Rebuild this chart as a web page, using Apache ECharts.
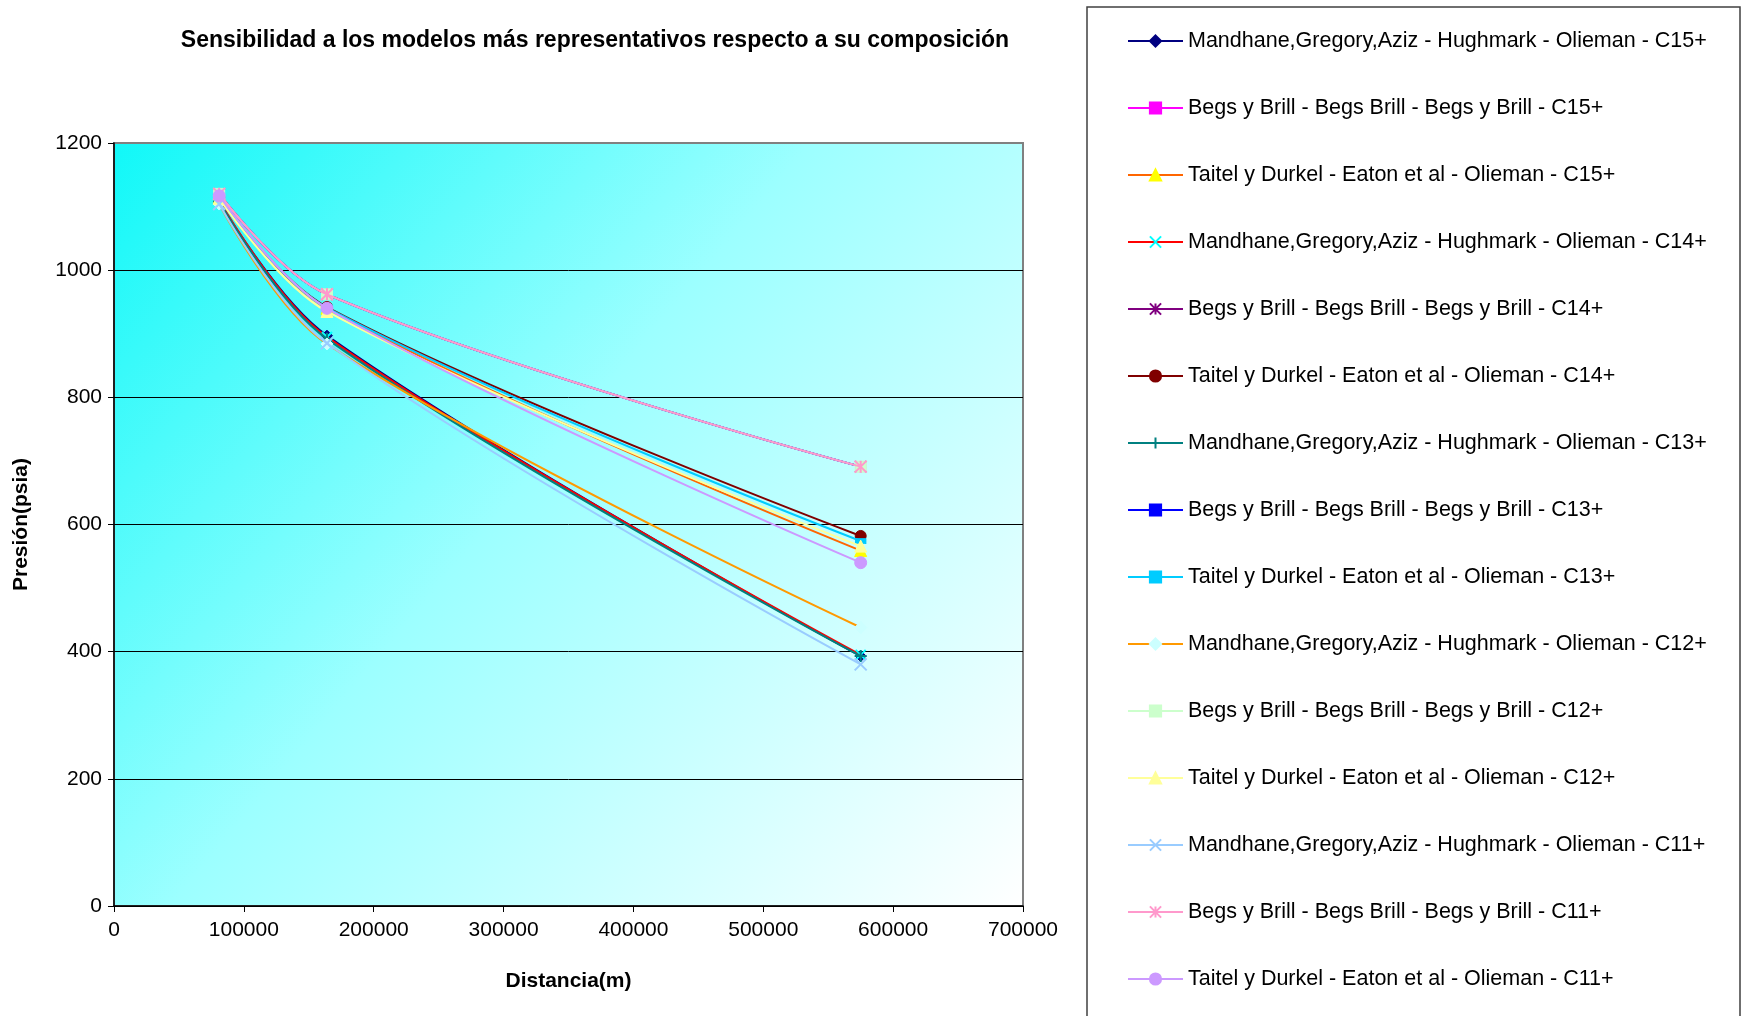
<!DOCTYPE html>
<html>
<head>
<meta charset="utf-8">
<script src="https://cdn.jsdelivr.net/npm/echarts@6/dist/echarts.min.js"></script>
<style>
  html, body { margin: 0; padding: 0; background: #ffffff; }
  #chart { width: 1742px; height: 1016px; }
</style>
</head>
<body>
<div id="chart"></div>
<script>
// Distance along the pipeline (m)
const distancias = [81000, 164000, 575000];

// Series names (correlation - holdup - viscosity - heavy fraction)
const nombres = [
  'Mandhane,Gregory,Aziz - Hughmark - Olieman - C15+',
  'Begs y Brill - Begs Brill - Begs y Brill - C15+',
  'Taitel y Durkel - Eaton et al - Olieman - C15+',
  'Mandhane,Gregory,Aziz - Hughmark - Olieman - C14+',
  'Begs y Brill - Begs Brill - Begs y Brill - C14+',
  'Taitel y Durkel - Eaton et al - Olieman - C14+',
  'Mandhane,Gregory,Aziz - Hughmark - Olieman - C13+',
  'Begs y Brill - Begs Brill - Begs y Brill - C13+',
  'Taitel y Durkel - Eaton et al - Olieman - C13+',
  'Mandhane,Gregory,Aziz - Hughmark - Olieman - C12+',
  'Begs y Brill - Begs Brill - Begs y Brill - C12+',
  'Taitel y Durkel - Eaton et al - Olieman - C12+',
  'Mandhane,Gregory,Aziz - Hughmark - Olieman - C11+',
  'Begs y Brill - Begs Brill - Begs y Brill - C11+',
  'Taitel y Durkel - Eaton et al - Olieman - C11+'
];

// Pressure (psia) at each distance
const mandhaneC15 = [1108, 897, 393];
const begsC15     = [1120, 962, 691];
const taitelC15   = [1115, 940, 559];
const mandhaneC14 = [1110, 895, 395];
const begsC14     = [1120, 962, 691];
const taitelC14   = [1115, 942, 582];
const mandhaneC13 = [1108, 892, 393];
const begsC13     = [1120, 962, 691];
const taitelC13   = [1115, 941, 574];
const mandhaneC12 = [1104, 884, 438];
const begsC12     = [1120, 962, 691];
const taitelC12   = [1113, 935, 566];
const mandhaneC11 = [1104, 885, 380];
const begsC11     = [1120, 962, 691];
const taitelC11   = [1117, 940, 540];

const valores = [
  mandhaneC15, begsC15, taitelC15,
  mandhaneC14, begsC14, taitelC14,
  mandhaneC13, begsC13, taitelC13,
  mandhaneC12, begsC12, taitelC12,
  mandhaneC11, begsC11, taitelC11
];

// Axis ticks
const ticksX = [0, 100000, 200000, 300000, 400000, 500000, 600000, 700000];
const ticksY = [0, 200, 400, 600, 800, 1000, 1200];

// Stroke-only marker shapes
const SYM_X = 'path://M0,0L10,10M10,0L0,10';
const SYM_STAR = 'path://M0,0L10,10M10,0L0,10M5,0L5,10';
const SYM_PLUS = 'path://M5,0L5,10M0,5L10,5';

// line colour, marker colour, marker symbol, marker size, stroke-only marker
const estilos = [
  ['#000080', '#000080', 'diamond', 11, false],
  ['#FF00FF', '#FF00FF', 'rect', 10, false],
  ['#FF6600', '#FFFF00', 'triangle', 12, false],
  ['#FF0000', '#00FFFF', SYM_X, 10, true],
  ['#800080', '#800080', SYM_STAR, 11, true],
  ['#800000', '#800000', 'circle', 11, false],
  ['#008080', '#008080', SYM_PLUS, 12, true],
  ['#0000FF', '#0000FF', 'rect', [8, 4], false],
  ['#00CCFF', '#00CCFF', 'rect', [10, 5], false],
  ['#FF9900', '#CCFFFF', 'diamond', 12, false],
  ['#CCFFCC', '#CCFFCC', 'rect', 11, false],
  ['#FFFF99', '#FFFF99', 'triangle', 12, false],
  ['#99CCFF', '#99CCFF', SYM_X, 12, true],
  ['#FF99CC', '#FF99CC', SYM_STAR, 12, true],
  ['#CC99FF', '#CC99FF', 'circle', 12, false]
];

const series = nombres.map((nombre, i) => {
  const [lineCol, markCol, sym, size, stroke] = estilos[i];
  return {
    name: nombre,
    type: 'line',
    data: distancias.map((d, k) => [d, valores[i][k]]),
    smooth: 0.35,
    symbol: sym,
    symbolSize: size,
    showAllSymbol: true,
    lineStyle: { color: lineCol, width: 2 },
    itemStyle: stroke
      ? { color: markCol, borderColor: markCol, borderWidth: 2 }
      : { color: markCol, borderColor: markCol, borderWidth: 1 },
    emphasis: { disabled: true },
    z: 3 + i
  };
});

const chart = echarts.init(document.getElementById('chart'), null, { renderer: 'canvas' });

chart.setOption({
  animation: false,
  backgroundColor: '#ffffff',
  textStyle: { fontFamily: '"Liberation Sans", Arial, sans-serif' },
  grid: {
    left: 114,
    right: 719,
    top: 143,
    bottom: 110,
    show: true,
    borderColor: '#808080',
    borderWidth: 2,
    backgroundColor: new echarts.graphic.LinearGradient(0, 0, 1, 1, [
      { offset: 0, color: '#10F8F8' },
      { offset: 0.45, color: '#9CFFFF' },
      { offset: 1, color: '#FFFFFF' }
    ])
  },
  xAxis: {
    type: 'value',
    min: ticksX[0],
    max: ticksX[ticksX.length - 1],
    interval: 100000,
    name: 'Distancia(m)',
    nameLocation: 'middle',
    nameGap: 65,
    nameTextStyle: { fontSize: 21, fontWeight: 'bold', color: '#000' },
    axisLine: { show: true, lineStyle: { color: '#000', width: 1.5 } },
    axisTick: { show: true, inside: false, length: 6, lineStyle: { color: '#000' } },
    axisLabel: { fontSize: 21, color: '#000', margin: 14, formatter: v => String(v) },
    splitLine: { show: false }
  },
  yAxis: {
    type: 'value',
    min: ticksY[0],
    max: ticksY[ticksY.length - 1],
    interval: 200,
    name: 'Presión(psia)',
    nameLocation: 'middle',
    nameRotate: 90,
    nameGap: 82,
    nameTextStyle: { fontSize: 21, fontWeight: 'bold', color: '#000' },
    axisLine: { show: true, lineStyle: { color: '#000', width: 1.5 } },
    axisTick: { show: true, inside: false, length: 6, lineStyle: { color: '#000' } },
    axisLabel: { fontSize: 21, color: '#000', margin: 12, formatter: v => String(v) },
    splitLine: {
      show: true,
      lineStyle: {
        color: ['#000', '#000', '#000', '#000', '#000', '#000', '#808080'],
        width: 1
      }
    }
  },
  legend: {
    orient: 'vertical',
    left: 1122,
    top: 24,
    itemWidth: 55,
    itemHeight: 14,
    itemGap: 43,
    selectedMode: false,
    data: nombres,
    textStyle: { fontSize: 21.5, lineHeight: 24, color: '#000' }
  },
  graphic: [
    {
      type: 'rect',
      shape: { x: 1087, y: 7, width: 653, height: 1020 },
      style: { fill: 'none', stroke: '#404040', lineWidth: 1.5 },
      silent: true,
      z: 0
    },
    {
      type: 'text',
      style: {
        text: 'Sensibilidad a los modelos más representativos respecto a su composición',
        x: 595,
        y: 41,
        align: 'center',
        verticalAlign: 'middle',
        font: 'bold 23px "Liberation Sans", Arial, sans-serif',
        fill: '#000'
      },
      silent: true
    }
  ],
  series: series
});
</script>
</body>
</html>
